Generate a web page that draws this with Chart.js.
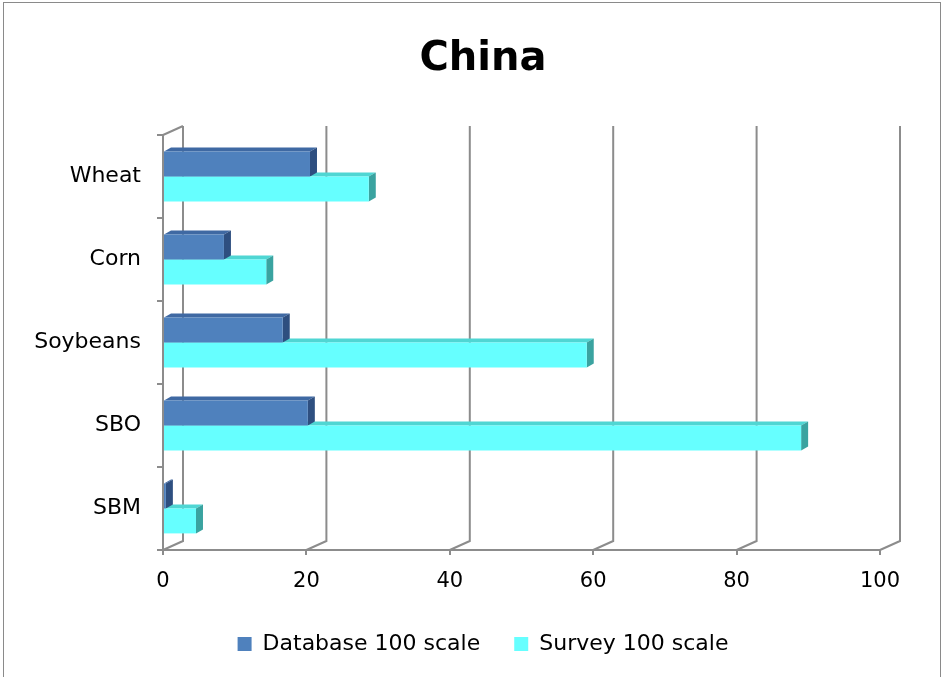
<!DOCTYPE html>
<html>
<head>
<meta charset="utf-8">
<script src="https://cdn.jsdelivr.net/npm/chart.js@4.4.0/dist/chart.umd.min.js"></script>
<style>
  body { margin: 0; background: #fff; }
  #wrap { position: relative; width: 950px; height: 677px; }
  #frame { position: absolute; left: 3px; top: 2px; width: 936px; height: 690px; border: 1px solid #8a8a8a; }
  canvas { position: absolute; left: 0; top: 0; }
</style>
</head>
<body>
<div id="wrap">
  <div id="frame"></div>
  <canvas id="chart" width="950" height="677"></canvas>
</div>
<script>
var crops = ["Wheat", "Corn", "Soybeans", "SBO", "SBM"];
var databaseScale = [20.5, 8.5, 16.7, 20.2, 0.4];
var surveyScale = [28.7, 14.4, 59.1, 89, 4.6];
var xTicks = [0, 20, 40, 60, 80, 100];

var FONT = "'DejaVu Sans', sans-serif";
var DX = 20, DY = 9;

// back wall lines and the floor diagonals
var wallPlugin = {
  id: "wall",
  beforeDatasetsDraw: function(chart) {
    var ctx = chart.ctx, xs = chart.scales.x, a = chart.chartArea;
    ctx.save();
    ctx.strokeStyle = "#8c8c8c";
    ctx.lineWidth = 2;
    xTicks.forEach(function(v) {
      var px = xs.getPixelForValue(v);
      ctx.beginPath();
      ctx.moveTo(px + DX, a.top - DY);
      ctx.lineTo(px + DX, a.bottom - DY);
      ctx.lineTo(px, a.bottom);
      ctx.stroke();
    });
    ctx.beginPath();
    ctx.moveTo(a.left, a.top);
    ctx.lineTo(a.left + DX, a.top - DY);
    ctx.stroke();
    ctx.restore();
  }
};

// top and side faces of the bars
var sideColors = [["#3f69a3", "#2e4f80"], ["#4fd6d3", "#3aa3a0"]];
var barFacePlugin = {
  id: "barFaces",
  beforeDatasetsDraw: function(chart) {
    var ctx = chart.ctx;
    var dx = 7, dy = 4;
    ctx.save();
    for (var d = chart.data.datasets.length - 1; d >= 0; d--) {
      var meta = chart.getDatasetMeta(d);
      meta.data.forEach(function(bar) {
        var top = bar.y - bar.height / 2, bottom = bar.y + bar.height / 2;
        ctx.fillStyle = sideColors[d][0];
        ctx.beginPath();
        ctx.moveTo(bar.base, top);
        ctx.lineTo(bar.x, top);
        ctx.lineTo(bar.x + dx, top - dy);
        ctx.lineTo(bar.base + dx, top - dy);
        ctx.closePath();
        ctx.fill();
        ctx.fillStyle = sideColors[d][1];
        ctx.beginPath();
        ctx.moveTo(bar.x, top);
        ctx.lineTo(bar.x + dx, top - dy);
        ctx.lineTo(bar.x + dx, bottom - dy);
        ctx.lineTo(bar.x, bottom);
        ctx.closePath();
        ctx.fill();
      });
    }
    ctx.restore();
  }
};

var ctx = document.getElementById("chart");

var data = {
  labels: crops,
  datasets: [
    {
      label: "Database 100 scale",
      data: databaseScale,
      backgroundColor: "#4f81bd"
    },
    {
      label: "Survey 100 scale",
      data: surveyScale,
      backgroundColor: "#66ffff"
    }
  ]
};

var options = {
  indexAxis: "y",
  responsive: false,
  animation: false,
  layout: { padding: { left: 26, right: 10, top: 0, bottom: 12 } },
  datasets: { bar: { categoryPercentage: 0.6, barPercentage: 1 } },
  scales: {
    x: {
      min: 0,
      max: 100,
      afterBuildTicks: function(axis) {
        axis.ticks = xTicks.map(function(v) { return { value: v }; });
      },
      afterFit: function(axis) { axis.height = 49; },
      grid: { drawOnChartArea: false, tickLength: 5, color: "#8c8c8c", lineWidth: 2 },
      border: { display: true, color: "#8c8c8c", width: 2 },
      ticks: { color: "#000", font: { family: FONT, size: 21 }, padding: 14, maxRotation: 0 }
    },
    y: {
      afterFit: function(axis) { axis.width = 137; },
      grid: { drawOnChartArea: false, tickLength: 6, color: "#8c8c8c", lineWidth: 2 },
      border: { display: true, color: "#8c8c8c", width: 2 },
      ticks: { color: "#000", font: { family: FONT, size: 22 }, padding: 16 }
    },
    // empty right-hand axis, only reserves space on the right
    spacer: {
      type: "category",
      position: "right",
      afterFit: function(axis) { axis.width = 60; },
      grid: { display: false },
      border: { display: false },
      ticks: { display: false }
    }
  },
  plugins: {
    title: {
      display: true,
      text: "China",
      color: "#000",
      font: { family: FONT, size: 40, weight: "bold" },
      padding: { top: 36, bottom: 51 }
    },
    legend: {
      display: true,
      position: "bottom",
      labels: {
        color: "#000",
        font: { family: FONT, size: 22 },
        boxWidth: 14,
        boxHeight: 14,
        padding: 34
      }
    },
    tooltip: { enabled: false }
  }
};

var chart = new Chart(ctx, {
  type: "bar",
  data: data,
  options: options,
  plugins: [wallPlugin, barFacePlugin]
});
</script>
</body>
</html>
